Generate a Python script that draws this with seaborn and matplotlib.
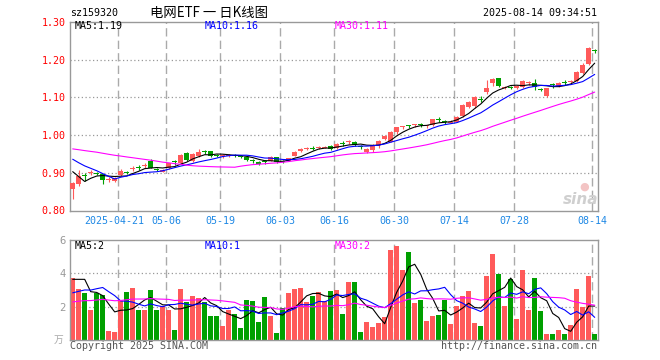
import numpy as np
import pandas as pd
import matplotlib
matplotlib.use("Agg")
import matplotlib.pyplot as plt
import matplotlib.transforms as mtransforms
import seaborn as sns

# ---------------- data ----------------
holidays = ["2025-05-01", "2025-05-02", "2025-05-05", "2025-06-02"]
dates = [d for d in pd.bdate_range("2025-04-09", "2025-08-14") if d.strftime("%Y-%m-%d") not in holidays]

open_ = [0.856, 0.870, 0.893, 0.900, 0.900, 0.896, 0.882, 0.878, 0.893, 0.903,
         0.911, 0.916, 0.919, 0.932, 0.910, 0.903, 0.912, 0.930, 0.925, 0.952,
         0.930, 0.945, 0.957, 0.957, 0.947, 0.946, 0.946, 0.947, 0.944, 0.943,
         0.933, 0.929, 0.930, 0.932, 0.941, 0.931, 0.932, 0.945, 0.960, 0.964,
         0.966, 0.967, 0.967, 0.971, 0.965, 0.979, 0.981, 0.983, 0.970, 0.956,
         0.960, 0.974, 0.989, 0.983, 1.009, 1.023, 1.025, 1.027, 1.028, 1.025,
         1.027, 1.041, 1.036, 1.034, 1.036, 1.050, 1.075, 1.078, 1.096, 1.113,
         1.139, 1.151, 1.127, 1.127, 1.124, 1.128, 1.138, 1.137, 1.123, 1.104,
         1.134, 1.130, 1.141, 1.140, 1.143, 1.165, 1.188, 1.226]
high = [0.876, 0.907, 0.899, 0.907, 0.903, 0.898, 0.890, 0.888, 0.909, 0.906,
        0.918, 0.921, 0.926, 0.936, 0.913, 0.909, 0.927, 0.935, 0.949, 0.955,
        0.952, 0.962, 0.960, 0.959, 0.949, 0.950, 0.950, 0.950, 0.947, 0.945,
        0.936, 0.932, 0.933, 0.944, 0.943, 0.934, 0.940, 0.958, 0.965, 0.969,
        0.970, 0.972, 0.972, 0.973, 0.979, 0.984, 0.986, 0.985, 0.975, 0.965,
        0.976, 0.988, 1.000, 1.012, 1.022, 1.025, 1.026, 1.030, 1.032, 1.027,
        1.044, 1.047, 1.040, 1.040, 1.050, 1.082, 1.090, 1.104, 1.105, 1.146,
        1.151, 1.152, 1.131, 1.131, 1.132, 1.145, 1.144, 1.150, 1.126, 1.124,
        1.137, 1.140, 1.146, 1.146, 1.170, 1.190, 1.234, 1.228]
low = [0.830, 0.866, 0.879, 0.894, 0.893, 0.871, 0.876, 0.875, 0.891, 0.897,
       0.906, 0.907, 0.913, 0.912, 0.904, 0.901, 0.910, 0.922, 0.923, 0.932,
       0.928, 0.943, 0.950, 0.943, 0.941, 0.938, 0.943, 0.942, 0.939, 0.932,
       0.927, 0.921, 0.924, 0.930, 0.926, 0.926, 0.930, 0.944, 0.956, 0.961,
       0.960, 0.964, 0.965, 0.960, 0.963, 0.972, 0.976, 0.972, 0.963, 0.953,
       0.955, 0.966, 0.986, 0.981, 1.004, 1.017, 1.018, 1.022, 1.021, 1.020,
       1.025, 1.036, 1.030, 1.031, 1.034, 1.048, 1.073, 1.071, 1.088, 1.110,
       1.130, 1.128, 1.123, 1.121, 1.122, 1.126, 1.132, 1.119, 1.116, 1.100,
       1.124, 1.128, 1.132, 1.138, 1.141, 1.163, 1.186, 1.218]
close = [0.874, 0.892, 0.891, 0.902, 0.898, 0.881, 0.884, 0.886, 0.906, 0.901,
         0.913, 0.914, 0.921, 0.914, 0.908, 0.907, 0.925, 0.928, 0.947, 0.934,
         0.950, 0.954, 0.955, 0.945, 0.945, 0.948, 0.947, 0.946, 0.943, 0.934,
         0.932, 0.924, 0.928, 0.942, 0.928, 0.930, 0.938, 0.956, 0.961, 0.965,
         0.965, 0.968, 0.968, 0.963, 0.977, 0.978, 0.983, 0.974, 0.969, 0.963,
         0.975, 0.985, 0.998, 1.009, 1.022, 1.024, 1.024, 1.028, 1.027, 1.026,
         1.042, 1.040, 1.035, 1.035, 1.049, 1.080, 1.088, 1.100, 1.095, 1.126,
         1.149, 1.129, 1.128, 1.126, 1.130, 1.143, 1.139, 1.127, 1.121, 1.124,
         1.132, 1.139, 1.140, 1.143, 1.168, 1.187, 1.232, 1.224]
volume = [3.70, 3.09, 2.83, 1.82, 2.83, 2.73, 0.57, 0.48, 2.32, 2.91,
          3.15, 1.82, 1.82, 3.03, 1.82, 2.06, 1.78, 0.61, 3.09, 2.26,
          2.63, 2.51, 2.26, 1.45, 1.45, 0.85, 1.78, 1.58, 0.75, 2.38,
          2.32, 1.11, 2.57, 1.45, 0.40, 1.94, 2.81, 3.09, 3.15, 2.26,
          2.63, 2.87, 2.32, 2.93, 3.03, 1.58, 3.47, 3.47, 0.51, 1.11,
          0.81, 1.05, 1.41, 5.39, 5.66, 4.18, 5.29, 2.20, 2.38, 1.17,
          1.45, 1.52, 2.38, 0.97, 2.06, 2.67, 2.97, 1.05, 0.85, 3.84,
          5.15, 3.94, 2.02, 3.64, 1.27, 4.18, 1.82, 3.70, 1.72, 0.36,
          0.36, 0.61, 0.36, 0.91, 3.09, 2.00, 3.82, 0.36]

# estimated sessions before the window (only feed the moving averages)
prev_close = [0.958, 0.962, 0.966, 0.960, 0.965, 0.968, 0.963, 0.968,
              0.972, 0.976, 0.981, 0.985, 0.979, 0.983, 0.986, 0.981,
              0.992, 1.002, 0.999, 0.997,
              0.985, 0.975, 0.966, 0.962, 0.957,
              0.957, 0.956, 0.860, 0.868]
prev_volume = [1.6, 1.9, 1.7, 1.8, 1.5, 1.9, 1.7, 1.8, 1.6, 1.9, 1.8, 1.77,
               2.3, 2.5, 2.4, 2.2, 2.6, 2.4, 2.33, 2.4,
               2.2, 2.0, 1.9, 2.0, 2.0,
               3.09, 2.83, 5.52, 3.06]

tick_dates = ["2025-04-21", "2025-05-06", "2025-05-19", "2025-06-03", "2025-06-16",
              "2025-06-30", "2025-07-14", "2025-07-28", "2025-08-14"]
price_ticks = [0.80, 0.90, 1.00, 1.10, 1.20, 1.30]
vol_ticks = [2, 4, 6]

code = "sz159320"
title = "电网ETF 一 日K线图"
stamp = "2025-08-14 09:34:51"

# ---------------- derived ----------------
n = len(close)
x = np.arange(n)
o = np.array(open_); c = np.array(close); h = np.array(high); l = np.array(low); v = np.array(volume)
full_c = pd.Series(prev_close + close)
full_v = pd.Series(prev_volume + volume)
k = len(prev_close)
ma = {m: full_c.rolling(m).mean().to_numpy()[k:] for m in (5, 10, 30)}
vma = {m: full_v.rolling(m).mean().to_numpy()[k:] for m in (5, 10, 30)}

RED = "#ff5a5a"
GREEN = "#00a000"
MA_COL = {5: "#000000", 10: "#0000ff", 30: "#ff00ff"}
up = c >= o
cols = np.where(up, RED, GREEN)

sns.set_theme(style="white")
plt.rcParams["font.family"] = ["DejaVu Sans Mono", "Noto Sans CJK SC"]

W, H = 660, 360
fig = plt.figure(figsize=(W / 100, H / 100), dpi=100)
fig.patch.set_facecolor("white")


def fx(px):
    return px / W


def fy(py):
    return 1 - py / H


ax = fig.add_axes([fx(70), fy(210.5), 528 / W, 188.5 / H])
axv = fig.add_axes([fx(70), fy(340), 528 / W, 100 / H])

xlim = (-0.45, 87.55)
date_str = [d.strftime("%Y-%m-%d") for d in dates]
tick_idx = [date_str.index(t) for t in tick_dates]
grid_x = [i - 0.4 for i in tick_idx]

ax.set_ylim(0.80, 1.30)
axv.set_ylim(0, 6)

for a, hy in ((ax, [0.90, 1.00, 1.10, 1.20]), (axv, [2, 4])):
    a.set_facecolor("white")
    a.set_xlim(*xlim)
    a.vlines(grid_x, *a.get_ylim(), colors="#aaaaaa", lw=1.0, linestyles=(0, (6, 3)), zorder=1)
    a.hlines(hy, *xlim, colors="#999999", lw=0.9, linestyles=(0, (1, 2)), zorder=1)
    for s in a.spines.values():
        s.set_color("#999999")
        s.set_linewidth(1.0)
    a.tick_params(length=0)

# candles
ax.vlines(x, l, h, colors=cols, lw=0.8, zorder=2)
body_h = np.maximum(np.abs(c - o), 0.0028)
body_b = np.where(np.abs(c - o) < 0.0028, (c + o) / 2 - 0.0014, np.minimum(o, c))
ax.bar(x, body_h, bottom=body_b, width=0.8, color=cols, linewidth=0, zorder=3)

axv.bar(x, v, width=0.82, color=cols, linewidth=0, zorder=2)

for m in (5, 10, 30):
    sns.lineplot(x=x, y=ma[m], ax=ax, color=MA_COL[m], lw=0.8, estimator=None, zorder=4)
    sns.lineplot(x=x, y=vma[m], ax=axv, color=MA_COL[m], lw=0.8, estimator=None, zorder=4)

ax.set_xlim(*xlim); axv.set_xlim(*xlim)
ax.set_ylim(0.80, 1.30)
axv.set_ylim(0, 6)
ax.set_yticks(price_ticks)
ax.set_yticklabels([f"{t:.2f}" for t in price_ticks], color="#ff0000", fontsize=7.2)
axv.set_yticks(vol_ticks)
axv.set_yticklabels([str(t) for t in vol_ticks], color="#999999", fontsize=7.6)
ax.tick_params(axis="y", pad=3)
axv.tick_params(axis="y", pad=3)
ax.set_ylabel(""); axv.set_ylabel(""); ax.set_xlabel(""); axv.set_xlabel("")

labels = [tick_dates[0]] + [t[5:] for t in tick_dates[1:]]
ax.set_xticks(grid_x)
ax.set_xticklabels(labels, color="#1e88e5", fontsize=7.2)
ax.tick_params(axis="x", pad=4)
first = ax.get_xticklabels()[0]
first.set_transform(first.get_transform() + mtransforms.ScaledTranslation(-0.045, 0, fig.dpi_scale_trans))
axv.set_xticks([])

# header texts
fig.text(fx(70), fy(13), code, ha="left", va="center", fontsize=7.2, color="#000000")
fig.text(fx(209), fy(13), title, ha="center", va="center", fontsize=9.6,
         family=["Noto Sans CJK SC", "DejaVu Sans"], color="#000000")
fig.text(fx(597), fy(13), stamp, ha="right", va="center", fontsize=7.2, color="#000000")

for m, xp in ((5, 74.7), (10, 204.7), (30, 334.7)):
    fig.text(fx(xp), fy(26.3), f"MA{m}:{ma[m][-1]:.2f}", ha="left", va="center",
             fontsize=7.2, color=MA_COL[m])
    fig.text(fx(xp), fy(246.3), f"MA{m}:{vma[m][-1]:.0f}", ha="left", va="center",
             fontsize=7.2, color=MA_COL[m])

fig.text(fx(70), fy(346.3), "Copyright 2025 SINA.COM", ha="left", va="center",
         fontsize=7.2, color="#555555")
fig.text(fx(597), fy(346.3), "http://finance.sina.com.cn", ha="right", va="center",
         fontsize=7.2, color="#555555")
fig.text(fx(63), fy(340), "万", ha="right", va="center", fontsize=7,
         family=["Noto Sans CJK SC", "DejaVu Sans"], color="#aaaaaa")
fig.text(fx(581), fy(199), "sina", ha="center", va="center", fontsize=11,
         family=["DejaVu Sans"], fontweight="bold", fontstyle="italic", color="#cfcfcf")
fig.text(fx(584), fy(187), "●", ha="center", va="center", fontsize=8,
         family=["DejaVu Sans"], color="#f3c4c4")

fig.savefig("out.png", dpi=100, facecolor="white")
